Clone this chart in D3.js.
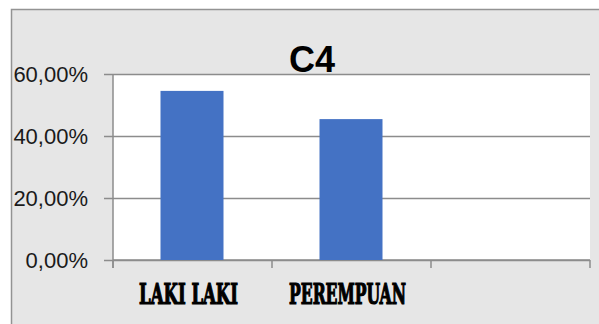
<!DOCTYPE html>
<html>
<head>
<meta charset="utf-8">
<script src="https://cdn.jsdelivr.net/npm/d3@7"></script>
<style>
  body { margin: 0; background: #fff; }
  svg { display: block; }
</style>
</head>
<body>
<svg></svg>
<script>
const categories = ['LAKI LAKI', 'PEREMPUAN', '']
const values = [54.55, 45.45, null]
const yTicks = [0, 20, 40, 60]
const title = 'C4'

const width = 599
const height = 324
const margin = { top: 74, right: 9, bottom: 64, left: 113 }

const svg = d3.select('svg')
  .attr('width', width)
  .attr('height', height)

// outer chart frame
svg.append('rect')
  .attr('x', 11.5)
  .attr('y', 9.5)
  .attr('width', 620)
  .attr('height', 340)
  .attr('fill', '#e6e6e6')
  .attr('stroke', '#939393')
  .attr('stroke-width', 1.5)

const x = d3.scaleBand()
  .domain(categories.map((d, i) => i))
  .range([margin.left, width - margin.right])
  .padding(0)

const y = d3.scaleLinear()
  .domain([0, 60])
  .range([height - margin.bottom, margin.top])

// plot area
svg.append('rect')
  .attr('x', margin.left)
  .attr('y', margin.top)
  .attr('width', width - margin.right - margin.left)
  .attr('height', height - margin.bottom - margin.top)
  .attr('fill', '#fff')

// gridlines + y ticks
const yAxis = svg.append('g')
  .attr('transform', `translate(${margin.left},0)`)
  .call(d3.axisLeft(y)
    .tickValues(yTicks)
    .tickSize(9)
    .tickPadding(16)
    .tickFormat((d) => d.toFixed(2).replace('.', ',') + '%'))

yAxis.select('.domain').attr('stroke', '#8c8c8c').attr('stroke-width', 1.5)
  .attr('d', `M0,${margin.top}V${height - margin.bottom + 8}`)
yAxis.selectAll('.tick line')
  .attr('stroke', '#8c8c8c')
  .attr('stroke-width', 1.5)
  .attr('x2', width - margin.right - margin.left)
  .attr('x1', -9)
yAxis.selectAll('.tick text')
  .attr('font-family', 'Liberation Sans, Arial, sans-serif')
  .attr('font-size', 22)
  .attr('fill', '#1a1a1a')
  .attr('dy', '0.35em')

// x ticks at band boundaries
const bounds = categories.map((d, i) => x(i)).concat([x.range()[1]])
svg.append('g')
  .selectAll('line')
  .data(bounds)
  .enter().append('line')
  .attr('x1', (d) => d)
  .attr('x2', (d) => d)
  .attr('y1', y(0))
  .attr('y2', y(0) + 8)
  .attr('stroke', '#8c8c8c')
  .attr('stroke-width', 1.5)

svg.append('line')
  .attr('x1', margin.left)
  .attr('x2', width - margin.right)
  .attr('y1', y(0))
  .attr('y2', y(0))
  .attr('stroke', '#8c8c8c')
  .attr('stroke-width', 1.5)

// bars
const barWidth = 63
svg.selectAll('.bar')
  .data(values.map((v, i) => ({ v, i })).filter((d) => d.v != null))
  .enter().append('rect')
  .attr('class', 'bar')
  .attr('x', (d) => x(d.i) + x.bandwidth() / 2 - barWidth / 2 - 0.5)
  .attr('y', (d) => y(d.v))
  .attr('width', barWidth)
  .attr('height', (d) => y(0) - y(d.v))
  .attr('fill', '#4472c4')

// category labels (heavy condensed look)
const labelWidths = [99, 117]
svg.selectAll('.cat')
  .data(categories.filter((d) => d))
  .enter().append('text')
  .attr('class', 'cat')
  .attr('x', (d, i) => x(i) + x.bandwidth() / 2 - 4)
  .attr('y', 303.5)
  .attr('text-anchor', 'middle')
  .attr('font-family', 'DejaVu Serif Condensed, DejaVu Serif, serif')
  .attr('font-weight', 'bold')
  .attr('font-size', 27)
  .attr('textLength', (d, i) => labelWidths[i])
  .attr('lengthAdjust', 'spacingAndGlyphs')
  .attr('fill', '#000')
  .attr('stroke', '#000')
  .attr('stroke-width', 1.2)
  .text((d) => d)

// title
svg.append('text')
  .attr('x', 312)
  .attr('y', 71.5)
  .attr('text-anchor', 'middle')
  .attr('font-family', 'Liberation Sans, Arial, sans-serif')
  .attr('font-weight', 'bold')
  .attr('font-size', 36)
  .attr('fill', '#000')
  .text(title)
</script>
</body>
</html>
